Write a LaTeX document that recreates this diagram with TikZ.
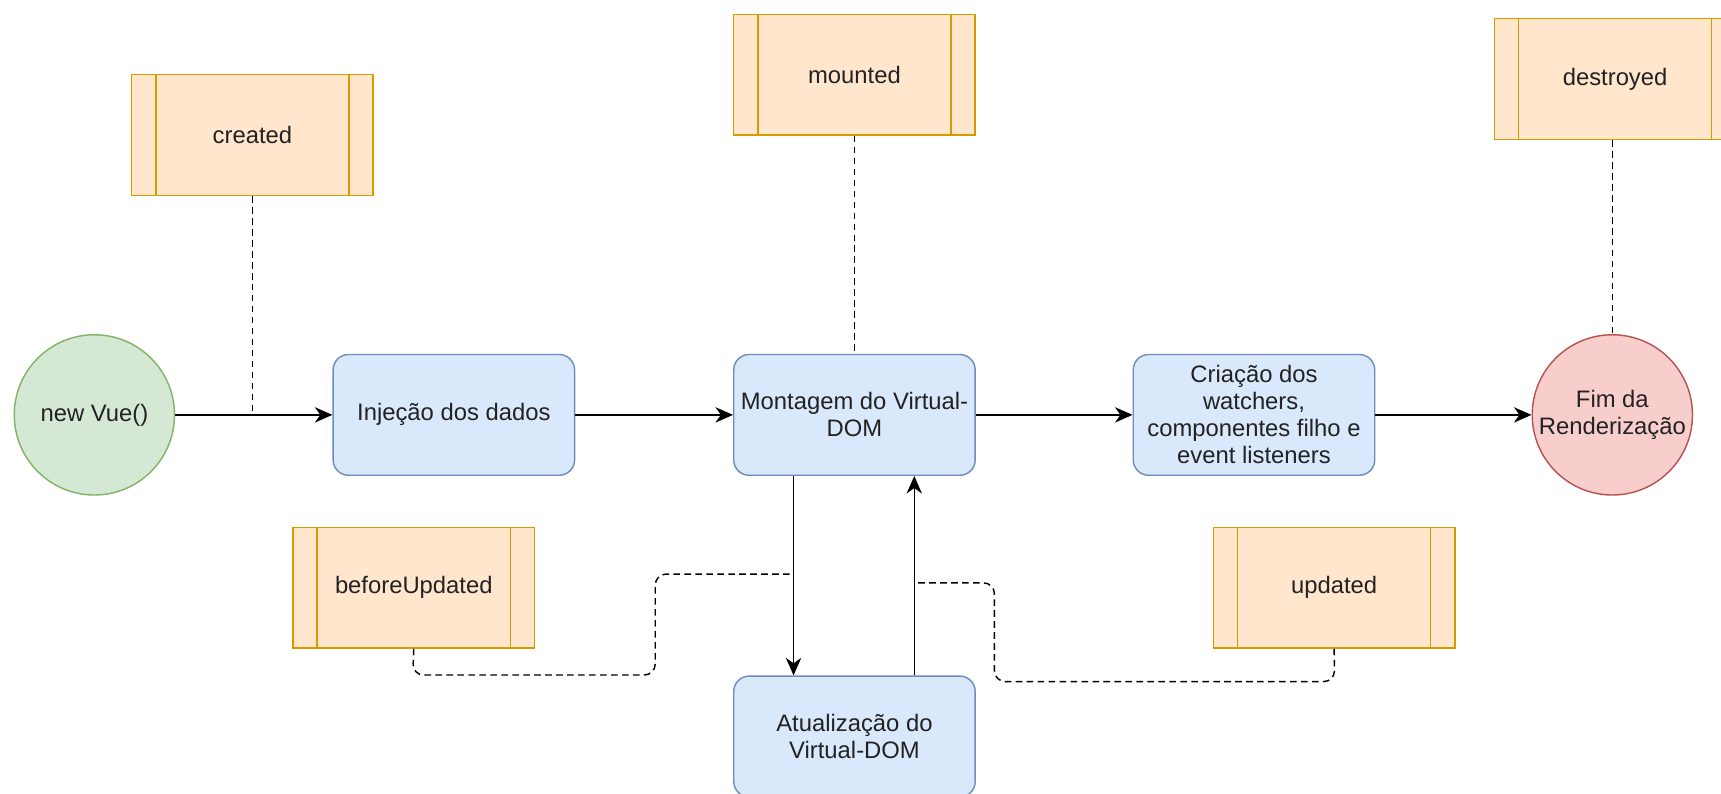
\documentclass[tikz,border=0pt]{standalone}
\usepackage{fontspec}
\setmainfont{Liberation Sans}
\usetikzlibrary{arrows.meta}
\definecolor{gfill}{HTML}{D5E8D4}
\definecolor{gdraw}{HTML}{82B366}
\definecolor{bfill}{HTML}{DAE8FC}
\definecolor{bdraw}{HTML}{6C8EBF}
\definecolor{ofill}{HTML}{FFE6CC}
\definecolor{odraw}{HTML}{D79B00}
\definecolor{rfill}{HTML}{F8CECC}
\definecolor{rdraw}{HTML}{B85450}
\definecolor{txt}{HTML}{222222}
\tikzset{
  base/.style={text=txt, align=center, inner sep=0pt, line width=0.65pt},
  startnode/.style={base, circle, draw=gdraw, fill=gfill, minimum size=73pt},
  endnode/.style={base, circle, draw=rdraw, fill=rfill, minimum size=73pt},
  procbox/.style={base, rectangle, rounded corners=7pt, draw=bdraw, fill=bfill, minimum width=110pt, minimum height=55pt},
  hookbox/.style={base, rectangle, draw=odraw, fill=ofill, minimum width=110pt, minimum height=55pt,
    path picture={
      \draw[odraw, line width=0.65pt] ([xshift=11pt]path picture bounding box.north west) -- ([xshift=11pt]path picture bounding box.south west);
      \draw[odraw, line width=0.65pt] ([xshift=-11pt]path picture bounding box.north east) -- ([xshift=-11pt]path picture bounding box.south east);
    }},
  arr/.style={line width=0.7pt, black, -{Stealth[length=8pt,width=7pt,inset=2.5pt]}},
  dashline/.style={line width=0.65pt, black, dash pattern=on 3pt off 2pt, rounded corners=5pt},
}
\begin{document}
\begin{tikzpicture}[x=0.5pt,y=-0.5pt,font=\fontsize{10.85pt}{12.3pt}\selectfont]
\clip (0,0) rectangle (1568,723);
\fill[white] (0,0) rectangle (1568,723);

\node[startnode] (vue) at (86,378) {new Vue()};
\node[procbox] (inj) at (413.5,378) {Injeção dos dados};
\node[procbox] (mont) at (778.5,378) {Montagem do Virtual-\\DOM};
\node[procbox] (cria) at (1142.5,378) {Criação dos\\watchers,\\componentes filho e\\event listeners};
\node[endnode] (fim) at (1469,378) {Fim da\\Renderização};
\node[procbox] (atual) at (778.5,671) {Atualização do\\Virtual-DOM};

\node[hookbox] (created) at (230,123) {created};
\node[hookbox] (mounted) at (778.5,68) {mounted};
\node[hookbox] (destroyed) at (1471.5,72) {destroyed};
\node[hookbox] (before) at (377,535.5) {beforeUpdated};
\node[hookbox] (updated) at (1215.5,535.5) {updated};

\coordinate (j1) at (230,378);
\coordinate (j2) at (723,523);
\coordinate (j3) at (833,531);

\draw[arr] (vue) -- (inj);
\draw[arr] (inj) -- (mont);
\draw[arr] (mont) -- (cria);
\draw[arr] (cria) -- (fim);
\draw[arr] ([xshift=-27.75pt]mont.south) -- ([xshift=-27.75pt]atual.north);
\draw[arr] ([xshift=27.25pt]atual.north) -- ([xshift=27.25pt]mont.south);

\draw[dashline] (created.south) -- (j1);
\draw[dashline] (mounted.south) -- (mont.north);
\draw[dashline] (destroyed.south -| fim.north) -- (fim.north);
\draw[dashline] (before.south) -- (376,615) -- (597,615) -- (597,523) -- (j2);
\draw[dashline] (updated.south) -- (1216,621) -- (906,621) -- (906,531) -- (j3);
\end{tikzpicture}
\end{document}
